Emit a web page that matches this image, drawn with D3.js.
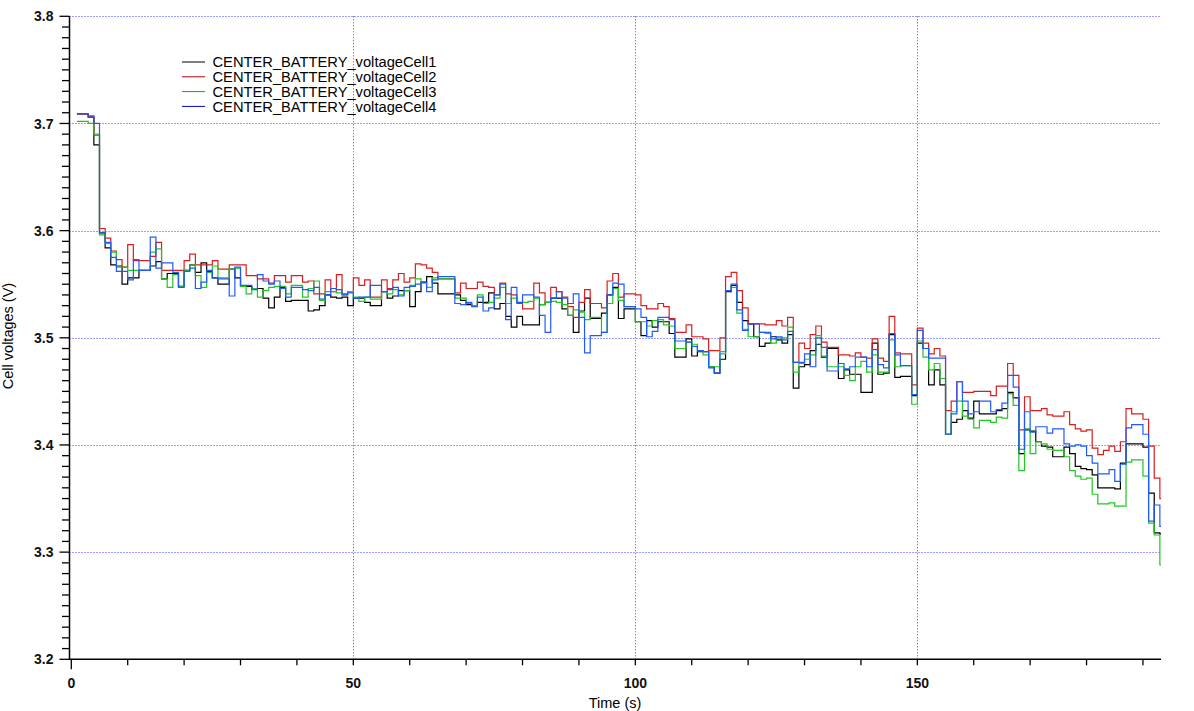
<!DOCTYPE html>
<html><head><meta charset="utf-8">
<script src="https://cdn.jsdelivr.net/npm/d3@7"></script>
<style>body{margin:0;background:#fff}svg{display:block}</style>
</head><body>
<svg id="c" width="1194" height="711"></svg>
<script>
// ---- data ----
const seriesNames = ["CENTER_BATTERY_voltageCell1","CENTER_BATTERY_voltageCell2","CENTER_BATTERY_voltageCell3","CENTER_BATTERY_voltageCell4"];
const seriesColors = ["#000000","#d81e1e","#1ec81e","#1e5aff"];
const legendColors = ["#000000","#b40000","#00b400","#0000d2"];
const timeStart = 1;            // first sample (s), 1 s sampling
const timeEnd = 193.2;          // end of record (s)
const xTicksMajor = [0,50,100,150];
const yTicksMajor = [3.2,3.3,3.4,3.5,3.6,3.7,3.8];

const cell1 = [3.709,3.709,3.706,3.680,3.598,3.584,3.568,3.567,3.550,3.556,3.556,3.563,3.563,3.567,3.571,3.555,3.560,3.560,3.548,3.563,
3.568,3.561,3.570,3.562,3.556,3.550,3.550,3.564,3.556,3.548,3.548,3.546,3.546,3.537,3.528,3.538,3.547,3.534,3.535,3.535,
3.535,3.525,3.526,3.530,3.540,3.538,3.537,3.538,3.530,3.537,3.537,3.533,3.530,3.530,3.543,3.537,3.539,3.544,3.544,3.529,
3.543,3.552,3.557,3.551,3.541,3.541,3.541,3.540,3.535,3.531,3.530,3.533,3.533,3.542,3.527,3.532,3.520,3.510,3.520,3.512,
3.512,3.512,3.531,3.533,3.537,3.537,3.527,3.521,3.505,3.525,3.537,3.518,3.518,3.523,3.540,3.547,3.518,3.527,3.527,3.515,
3.502,3.516,3.510,3.515,3.515,3.504,3.482,3.482,3.499,3.483,3.487,3.487,3.473,3.467,3.480,3.543,3.549,3.533,3.516,3.513,
3.501,3.492,3.495,3.501,3.498,3.495,3.503,3.453,3.473,3.475,3.488,3.494,3.482,3.490,3.490,3.462,3.470,3.466,3.466,3.449,
3.449,3.495,3.466,3.467,3.503,3.463,3.464,3.464,3.446,3.495,3.490,3.456,3.470,3.456,3.410,3.421,3.424,3.432,3.425,3.441,
3.429,3.429,3.429,3.432,3.434,3.449,3.444,3.392,3.414,3.413,3.403,3.399,3.398,3.389,3.389,3.398,3.392,3.380,3.378,3.377,
3.372,3.360,3.360,3.360,3.359,3.383,3.401,3.401,3.401,3.398,3.355,3.318,3.317];

const cell2 = [3.709,3.709,3.706,3.689,3.602,3.593,3.581,3.573,3.566,3.587,3.572,3.572,3.572,3.576,3.589,3.563,3.563,3.563,3.563,3.572,
3.578,3.568,3.568,3.568,3.572,3.564,3.564,3.568,3.568,3.568,3.558,3.558,3.555,3.555,3.551,3.558,3.558,3.552,3.558,3.558,
3.552,3.553,3.541,3.541,3.554,3.543,3.559,3.541,3.543,3.556,3.549,3.554,3.538,3.538,3.554,3.546,3.554,3.560,3.552,3.556,
3.569,3.568,3.565,3.561,3.555,3.555,3.555,3.542,3.551,3.546,3.546,3.552,3.548,3.547,3.540,3.551,3.541,3.540,3.532,3.527,
3.527,3.551,3.542,3.533,3.547,3.543,3.538,3.529,3.519,3.533,3.545,3.532,3.532,3.528,3.553,3.560,3.538,3.541,3.541,3.540,
3.530,3.527,3.527,3.532,3.529,3.518,3.505,3.505,3.512,3.501,3.501,3.499,3.488,3.488,3.500,3.557,3.561,3.544,3.528,3.513,
3.513,3.513,3.512,3.512,3.516,3.511,3.519,3.477,3.495,3.490,3.503,3.511,3.496,3.491,3.491,3.484,3.484,3.483,3.486,3.482,
3.481,3.499,3.481,3.478,3.520,3.486,3.485,3.485,3.456,3.509,3.495,3.485,3.490,3.483,3.432,3.441,3.459,3.449,3.449,3.450,
3.450,3.450,3.446,3.455,3.455,3.476,3.465,3.414,3.445,3.432,3.432,3.434,3.428,3.427,3.427,3.431,3.419,3.415,3.413,3.414,
3.397,3.391,3.395,3.399,3.394,3.403,3.434,3.429,3.429,3.424,3.399,3.369,3.350];

const cell3 = [3.702,3.702,3.700,3.690,3.596,3.588,3.580,3.566,3.566,3.563,3.563,3.563,3.563,3.580,3.583,3.555,3.547,3.559,3.548,3.563,
3.568,3.558,3.547,3.561,3.567,3.556,3.556,3.564,3.565,3.548,3.541,3.546,3.538,3.544,3.547,3.548,3.548,3.541,3.549,3.549,
3.538,3.546,3.553,3.535,3.543,3.543,3.542,3.540,3.543,3.538,3.534,3.538,3.536,3.536,3.543,3.541,3.545,3.540,3.544,3.549,
3.555,3.551,3.547,3.556,3.555,3.555,3.555,3.537,3.537,3.532,3.530,3.540,3.532,3.533,3.537,3.547,3.532,3.537,3.533,3.533,
3.534,3.537,3.531,3.533,3.534,3.533,3.531,3.521,3.526,3.524,3.517,3.519,3.519,3.505,3.532,3.546,3.535,3.529,3.529,3.515,
3.515,3.511,3.516,3.517,3.512,3.511,3.490,3.490,3.496,3.494,3.488,3.484,3.473,3.473,3.485,3.544,3.547,3.523,3.508,3.501,
3.501,3.505,3.504,3.495,3.500,3.500,3.510,3.468,3.476,3.480,3.484,3.502,3.483,3.473,3.473,3.473,3.465,3.460,3.473,3.478,
3.468,3.484,3.468,3.468,3.498,3.473,3.474,3.474,3.438,3.497,3.482,3.470,3.476,3.462,3.410,3.431,3.441,3.427,3.424,3.416,
3.423,3.423,3.421,3.426,3.425,3.448,3.437,3.376,3.415,3.392,3.403,3.401,3.396,3.395,3.395,3.389,3.376,3.371,3.368,3.369,
3.354,3.345,3.345,3.346,3.343,3.343,3.384,3.386,3.386,3.371,3.327,3.316,3.288];

const cell4 = [3.709,3.709,3.707,3.700,3.598,3.589,3.575,3.562,3.562,3.554,3.573,3.563,3.563,3.594,3.565,3.570,3.570,3.561,3.547,3.562,
3.565,3.546,3.552,3.563,3.556,3.555,3.555,3.539,3.566,3.549,3.549,3.545,3.559,3.553,3.550,3.553,3.546,3.538,3.547,3.547,
3.545,3.544,3.547,3.536,3.540,3.546,3.545,3.540,3.542,3.537,3.538,3.538,3.549,3.549,3.543,3.545,3.547,3.539,3.547,3.548,
3.550,3.552,3.543,3.554,3.557,3.557,3.557,3.532,3.531,3.533,3.529,3.538,3.525,3.528,3.540,3.550,3.517,3.547,3.533,3.540,
3.540,3.538,3.521,3.505,3.537,3.543,3.537,3.532,3.541,3.519,3.486,3.502,3.502,3.505,3.540,3.551,3.550,3.529,3.529,3.527,
3.519,3.501,3.506,3.519,3.519,3.517,3.497,3.497,3.496,3.492,3.488,3.487,3.472,3.467,3.487,3.544,3.550,3.526,3.507,3.513,
3.513,3.505,3.505,3.499,3.501,3.498,3.506,3.477,3.477,3.485,3.473,3.500,3.491,3.469,3.469,3.476,3.471,3.473,3.482,3.482,
3.473,3.489,3.475,3.472,3.504,3.484,3.474,3.474,3.447,3.507,3.490,3.481,3.481,3.481,3.410,3.429,3.459,3.441,3.429,3.431,
3.441,3.441,3.431,3.433,3.439,3.465,3.454,3.396,3.431,3.412,3.417,3.417,3.411,3.415,3.415,3.401,3.399,3.400,3.399,3.390,
3.383,3.373,3.373,3.377,3.366,3.382,3.416,3.419,3.419,3.410,3.329,3.344,3.324];

const seriesValues = [cell1, cell2, cell3, cell4];

// ---- layout ----
const svg = d3.select("#c");
const pLeft = 71.3, pRight = 1161, pTop = 16.3, pBottom = 659.3;
const x = d3.scaleLinear().domain([0, timeEnd]).range([pLeft, pRight]);
const y = d3.scaleLinear().domain([3.2, 3.8]).range([pBottom, pTop]);
const font = "'Liberation Sans', Arial, Helvetica, sans-serif";

// grid
const grid = svg.append("g").attr("stroke", "#3c3cff").attr("stroke-width", 1).attr("stroke-dasharray", "1,2");
yTicksMajor.filter(v => v > 3.2).forEach(v => {
  grid.append("line").attr("x1", 69.5).attr("x2", pRight).attr("y1", Math.round(y(v)) + 0.5).attr("y2", Math.round(y(v)) + 0.5);
});
xTicksMajor.filter(v => v > 0).forEach(v => {
  grid.append("line").attr("y1", pTop).attr("y2", pBottom).attr("x1", Math.round(x(v)) + 0.5).attr("x2", Math.round(x(v)) + 0.5);
});

// lines
const line = d3.line().x(d => x(d[0])).y(d => y(d[1])).curve(d3.curveStepAfter);
seriesValues.forEach((vals, i) => {
  const pts = vals.map((v, k) => [timeStart + k, v]);
  pts.push([timeEnd, vals[vals.length - 1]]);
  svg.append("path").attr("d", line(pts)).attr("fill", "none")
    .attr("stroke", seriesColors[i]).attr("stroke-width", 1.2).attr("stroke-linejoin", "miter");
});

// axes
const axisG = svg.append("g").attr("stroke", "#000").attr("stroke-width", 1.5);
axisG.append("line").attr("x1", 69.5).attr("x2", 69.5).attr("y1", pTop).attr("y2", pBottom + 0.5);
axisG.append("line").attr("x1", 69.5).attr("x2", pRight).attr("y1", pBottom).attr("y2", pBottom);

// y ticks
const yMinor = d3.range(0, 61).map(i => 3.2 + i * 0.01);
yMinor.forEach((v, i) => {
  const major = i % 10 === 0;
  const yy = y(v);
  svg.append("line").attr("x1", major ? 59.5 : 62).attr("x2", 69.5).attr("y1", yy).attr("y2", yy)
    .attr("stroke", "#000").attr("stroke-width", 1.3);
});
yTicksMajor.forEach(v => {
  svg.append("text").attr("x", 53.5).attr("y", y(v)).attr("dy", "0.36em").attr("text-anchor", "end")
    .attr("font-family", font).attr("font-size", 14).attr("font-weight", "bold").attr("fill", "#111")
    .text(d3.format(".1f")(v));
});

// x ticks
d3.range(0, 200, 10).forEach(v => {
  if (x(v) > pRight) return;
  const major = v === 0;
  svg.append("line").attr("x1", x(v)).attr("x2", x(v)).attr("y1", pBottom).attr("y2", pBottom + (major ? 10 : 6))
    .attr("stroke", "#000").attr("stroke-width", 1.3);
});
xTicksMajor.forEach(v => {
  svg.append("text").attr("x", x(v)).attr("y", 683).attr("dy", "0.36em").attr("text-anchor", "middle")
    .attr("font-family", font).attr("font-size", 14).attr("font-weight", "bold").attr("fill", "#111")
    .text(v);
});

// axis titles
svg.append("text").attr("x", 615).attr("y", 703).attr("dy", "0.36em").attr("text-anchor", "middle")
  .attr("font-family", font).attr("font-size", 14.5).attr("fill", "#000").text("Time (s)");
svg.append("text").attr("transform", "translate(8,336) rotate(-90)").attr("dy", "0.36em").attr("text-anchor", "middle")
  .attr("font-family", font).attr("font-size", 14.5).attr("fill", "#000").text("Cell voltages (V)");

// legend
seriesNames.forEach((n, i) => {
  const ly = 62 + i * 14.8;
  svg.append("line").attr("x1", 182).attr("x2", 205).attr("y1", ly).attr("y2", ly)
    .attr("stroke", legendColors[i]).attr("stroke-width", 1);
  svg.append("text").attr("x", 212.5).attr("y", ly).attr("dy", "0.36em")
    .attr("font-family", font).attr("font-size", 14.7).attr("fill", "#000").text(n);
});
</script>
</body></html>
